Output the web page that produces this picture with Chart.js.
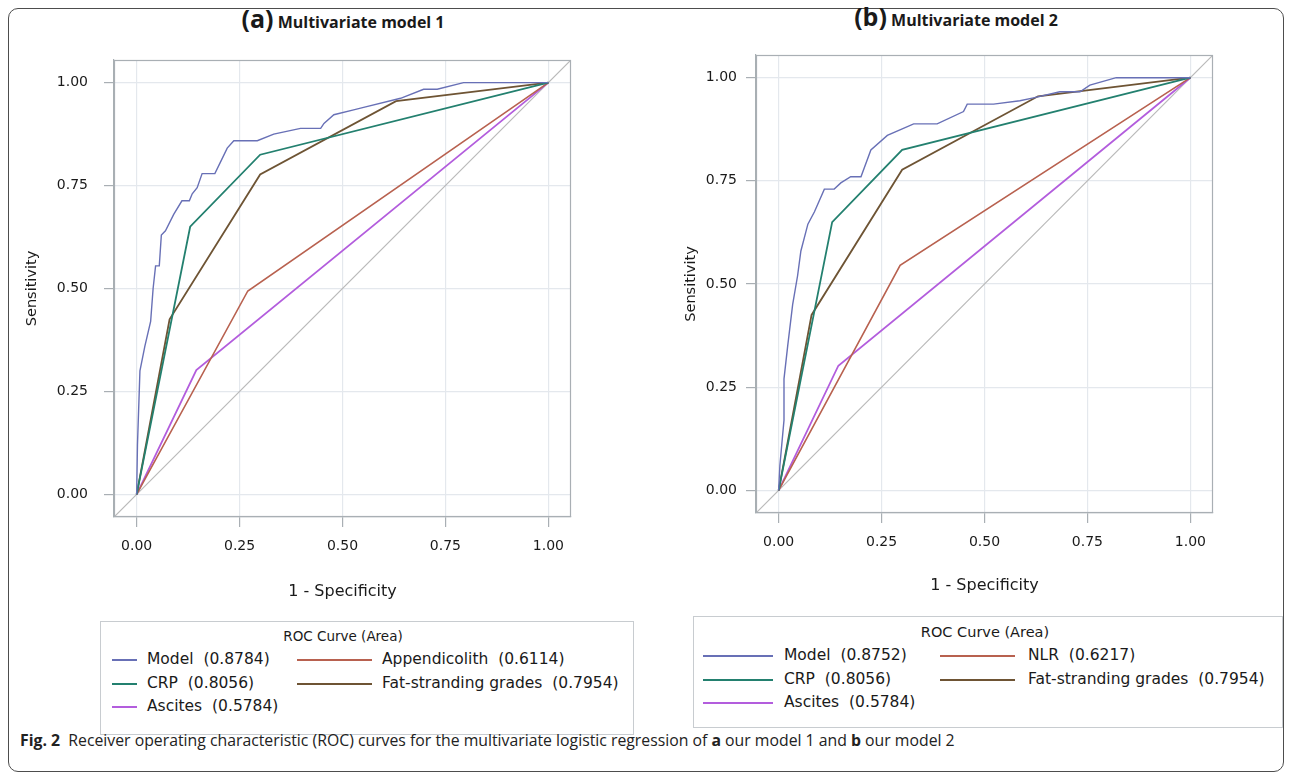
<!DOCTYPE html>
<html>
<head>
<meta charset="utf-8">
<script src="https://cdn.jsdelivr.net/npm/chart.js@4.4.1/dist/chart.umd.min.js"></script>
<style>
  html, body { margin:0; padding:0; background:#fff; }
  body { width:1292px; height:780px; position:relative; overflow:hidden; font-family:"Open Sans", sans-serif; color:#1a1a1a; }
  .fig-border { position:absolute; left:8px; top:8px; width:1276px; height:764px; border:1.5px solid #4d4d4d; border-radius:10px; box-sizing:border-box; }
  .panel-title { position:absolute; font-weight:bold; white-space:nowrap; transform:translate(-50%, -50%); line-height:1; }
  .panel-title .tag { font-size:25px; }
  .panel-title .name { font-size:16px; }
  canvas { position:absolute; }
  .roc-legend { position:absolute; border:1px solid #c8ccd0; box-sizing:border-box; }
  .leg-title, .leg-text { position:absolute; white-space:nowrap; transform:translateY(-50%); line-height:1; font-family:"DejaVu Sans", sans-serif; }
  .leg-title { transform:translate(-50%, -50%); }
  .leg-line { position:absolute; height:0; border-top:2px solid; }
  .caption { position:absolute; left:20px; top:741px; transform:translateY(-50%); font-size:15.8px; white-space:nowrap; color:#222; line-height:1; }
</style>
</head>
<body>
<div class="fig-border"></div>

<div class="panel-title" style="left:343px; top:18px"><span class="tag">(a)</span> <span class="name">Multivariate model 1</span></div>
<div class="panel-title" style="left:956px; top:16px"><span class="tag">(b)</span> <span class="name">Multivariate model 2</span></div>

<canvas id="chartA" width="570" height="580" style="left:20px; top:30px"></canvas>
<canvas id="chartB" width="575" height="580" style="left:660px; top:25px"></canvas>

<div id="legendA"></div>
<div id="legendB"></div>

<div class="caption"><b>Fig. 2</b>&nbsp; Receiver operating characteristic (ROC) curves for the multivariate logistic regression of <b>a</b> our model 1 and <b>b</b> our model 2</div>

<script>
// ROC curves, two multivariate models

// DATA
// ============================================================
const axisTicks = [0, 0.25, 0.5, 0.75, 1];
const AXIS_MIN = -0.055;
const AXIS_MAX = 1.055;

// panel (a) model 1
const modelA_fpr = [0, 0.002, 0.008, 0.02, 0.034, 0.040, 0.046, 0.055, 0.060, 0.070, 0.090, 0.110, 0.128, 0.135, 0.147, 0.159, 0.190, 0.205, 0.220, 0.236, 0.293, 0.333, 0.398, 0.447, 0.455, 0.479, 0.527, 0.544, 0.641, 0.697, 0.730, 0.794, 1];
const modelA_tpr = [0, 0.12, 0.30, 0.36, 0.42, 0.50, 0.555, 0.555, 0.63, 0.64, 0.68, 0.713, 0.713, 0.73, 0.745, 0.779, 0.779, 0.81, 0.841, 0.859, 0.859, 0.875, 0.889, 0.889, 0.901, 0.922, 0.934, 0.938, 0.962, 0.984, 0.984, 1, 1];
const appendicolith_fpr = [0, 0.27, 1];
const appendicolith_tpr = [0, 0.494, 1];

// panel (b) model 2
const modelB_fpr = [0, 0.003, 0.013, 0.013, 0.022, 0.034, 0.046, 0.054, 0.071, 0.087, 0.111, 0.135, 0.151, 0.175, 0.200, 0.224, 0.264, 0.328, 0.385, 0.449, 0.458, 0.522, 0.586, 0.619, 0.683, 0.732, 0.756, 0.820, 1];
const modelB_tpr = [0, 0.06, 0.17, 0.27, 0.35, 0.45, 0.52, 0.58, 0.645, 0.675, 0.73, 0.73, 0.745, 0.76, 0.76, 0.825, 0.86, 0.888, 0.888, 0.918, 0.936, 0.936, 0.944, 0.951, 0.966, 0.966, 0.982, 1, 1];
const nlr_fpr = [0, 0.295, 1];
const nlr_tpr = [0, 0.545, 1];

// shared by both panels
const crp_fpr = [0, 0.13, 0.30, 1];
const crp_tpr = [0, 0.65, 0.825, 1];
const fat_fpr = [0, 0.08, 0.30, 0.63, 1];
const fat_tpr = [0, 0.425, 0.777, 0.955, 1];
const ascites_fpr = [0, 0.145, 1];
const ascites_tpr = [0, 0.302, 1];

const legendNamesA = ['Model', 'Appendicolith', 'CRP', 'Fat-stranding grades', 'Ascites'];
const legendAreasA = ['0.8784', '0.6114', '0.8056', '0.7954', '0.5784'];
const legendNamesB = ['Model', 'NLR', 'CRP', 'Fat-stranding grades', 'Ascites'];
const legendAreasB = ['0.8752', '0.6217', '0.8056', '0.7954', '0.5784'];

// STYLE
// ============================================================
const C_MODEL = '#6870b6';
const C_RED   = '#b8614f';
const C_CRP   = '#23806f';
const C_FAT   = '#6e5434';
const C_ASC   = '#b35ddd';
const C_REF   = '#b9b9b9';
const C_GRID  = '#e4e8ed';
const C_FRAME = '#a9afb4';
const FONT    = '"DejaVu Sans", sans-serif';

function pts(xs, ys) { return xs.map((x, i) => ({ x, y: ys[i] })); }

function rocSet(xs, ys, color, width) {
  return { data: pts(xs, ys), borderColor: color, borderWidth: width || 1.6, showLine: true, pointRadius: 0, fill: false, tension: 0 };
}

// box round the plot area (Chart.js only draws the axis sides)
const framePlugin = {
  id: 'frame',
  afterDraw(chart) {
    const { ctx, chartArea: a } = chart;
    ctx.save();
    ctx.strokeStyle = C_FRAME;
    ctx.lineWidth = 1.2;
    ctx.strokeRect(a.left + 0.5, a.top + 0.5, a.right - a.left - 1, a.bottom - a.top - 1);
    ctx.restore();
  }
};

function makeRoc(id, datasets, g) {
  const tickFont = { family: FONT, size: 14 };
  return new Chart(document.getElementById(id), {
    type: 'scatter',
    data: { datasets },
    options: {
      responsive: false, animation: false,
      layout: { padding: g.padding },
      plugins: { legend: { display: false }, tooltip: { enabled: false } },
      scales: {
        x: {
          type: 'linear', min: AXIS_MIN, max: AXIS_MAX,
          afterBuildTicks: s => { s.ticks = axisTicks.map(v => ({ value: v })); },
          afterFit: s => { s.height = g.xAxisHeight; },
          ticks: { callback: v => v.toFixed(2), padding: 11, font: tickFont, color: '#1a1a1a', maxRotation: 0 },
          grid: { color: C_GRID, tickColor: C_FRAME, tickLength: 10, lineWidth: 1.2 },
          border: { color: C_FRAME, width: 1.2 },
          title: { display: true, text: '1 - Specificity', font: { family: FONT, size: 16 }, color: '#1a1a1a', padding: { top: 0, bottom: g.xTitlePad } }
        },
        y: {
          type: 'linear', min: AXIS_MIN, max: AXIS_MAX,
          afterBuildTicks: s => { s.ticks = axisTicks.map(v => ({ value: v })); },
          afterFit: s => { s.width = g.yAxisWidth; },
          ticks: { callback: v => v.toFixed(2), padding: g.yTickPad, font: tickFont, color: '#1a1a1a' },
          grid: { color: C_GRID, tickColor: C_FRAME, tickLength: 10, lineWidth: 1.2 },
          border: { color: C_FRAME, width: 1.2 },
          title: { display: true, text: 'Sensitivity', font: { family: FONT, size: 14.5 }, color: '#1a1a1a', padding: { top: g.yTitlePad, bottom: 0 } }
        }
      }
    },
    plugins: [framePlugin]
  });
}

const refLine = [AXIS_MIN - 0.01, AXIS_MAX + 0.01];

makeRoc('chartA', [
  rocSet(modelA_fpr, modelA_tpr, C_MODEL, 1.4),
  rocSet(crp_fpr, crp_tpr, C_CRP, 1.8),
  rocSet(fat_fpr, fat_tpr, C_FAT, 1.8),
  rocSet(appendicolith_fpr, appendicolith_tpr, C_RED, 1.6),
  rocSet(ascites_fpr, ascites_tpr, C_ASC, 1.8),
  rocSet(refLine, refLine, C_REF, 1.2)
], { padding: { left: 0, right: 19, top: 30, bottom: 0 }, xAxisHeight: 93, yAxisWidth: 94, xTitlePad: 9, yTitlePad: 4, yTickPad: 16 });

makeRoc('chartB', [
  rocSet(modelB_fpr, modelB_tpr, C_MODEL, 1.4),
  rocSet(crp_fpr, crp_tpr, C_CRP, 1.8),
  rocSet(fat_fpr, fat_tpr, C_FAT, 1.8),
  rocSet(nlr_fpr, nlr_tpr, C_RED, 1.6),
  rocSet(ascites_fpr, ascites_tpr, C_ASC, 1.8),
  rocSet(refLine, refLine, C_REF, 1.2)
], { padding: { left: 0, right: 22, top: 30, bottom: 0 }, xAxisHeight: 92, yAxisWidth: 96, xTitlePad: 10, yTitlePad: 23, yTickPad: 9 });

// LEGENDS
// ============================================================
const legendColors = [C_MODEL, C_RED, C_CRP, C_FAT, C_ASC];

function buildLegend(el, names, areas, g) {
  let html = `<div class="roc-legend" style="left:${g.box[0]}px;top:${g.box[1]}px;width:${g.box[2]}px;height:${g.box[3]}px"></div>`;
  html += `<div class="leg-title" style="left:${g.titleX}px;top:${g.titleY}px;font-size:${g.titleSize}px">ROC Curve (Area)</div>`;
  names.forEach((name, i) => {
    const col = i === 4 ? 0 : i % 2;
    const row = Math.floor(i / 2);
    const c = g.cols[col];
    const y = g.rows[row];
    html += `<div class="leg-line" style="left:${c.line0}px;width:${c.line1 - c.line0}px;top:${y - 1}px;border-color:${legendColors[i]}"></div>`;
    html += `<div class="leg-text" style="left:${c.text}px;top:${y}px;font-size:${g.size}px">${name}&nbsp; (${areas[i]})</div>`;
  });
  el.innerHTML = html;
}

buildLegend(document.getElementById('legendA'), legendNamesA, legendAreasA, {
  box: [100, 621, 534, 114], titleX: 343, titleY: 637, size: 15.5, titleSize: 13.5,
  rows: [660, 684, 707],
  cols: [{ line0: 112, line1: 137, text: 147 }, { line0: 297, line1: 372, text: 382 }]
});

buildLegend(document.getElementById('legendB'), legendNamesB, legendAreasB, {
  box: [693, 616, 590, 112], titleX: 985, titleY: 632, size: 15.5, titleSize: 14.5,
  rows: [656, 680, 703],
  cols: [{ line0: 703, line1: 773, text: 784 }, { line0: 940, line1: 1015, text: 1028 }]
});
</script>
</body>
</html>
